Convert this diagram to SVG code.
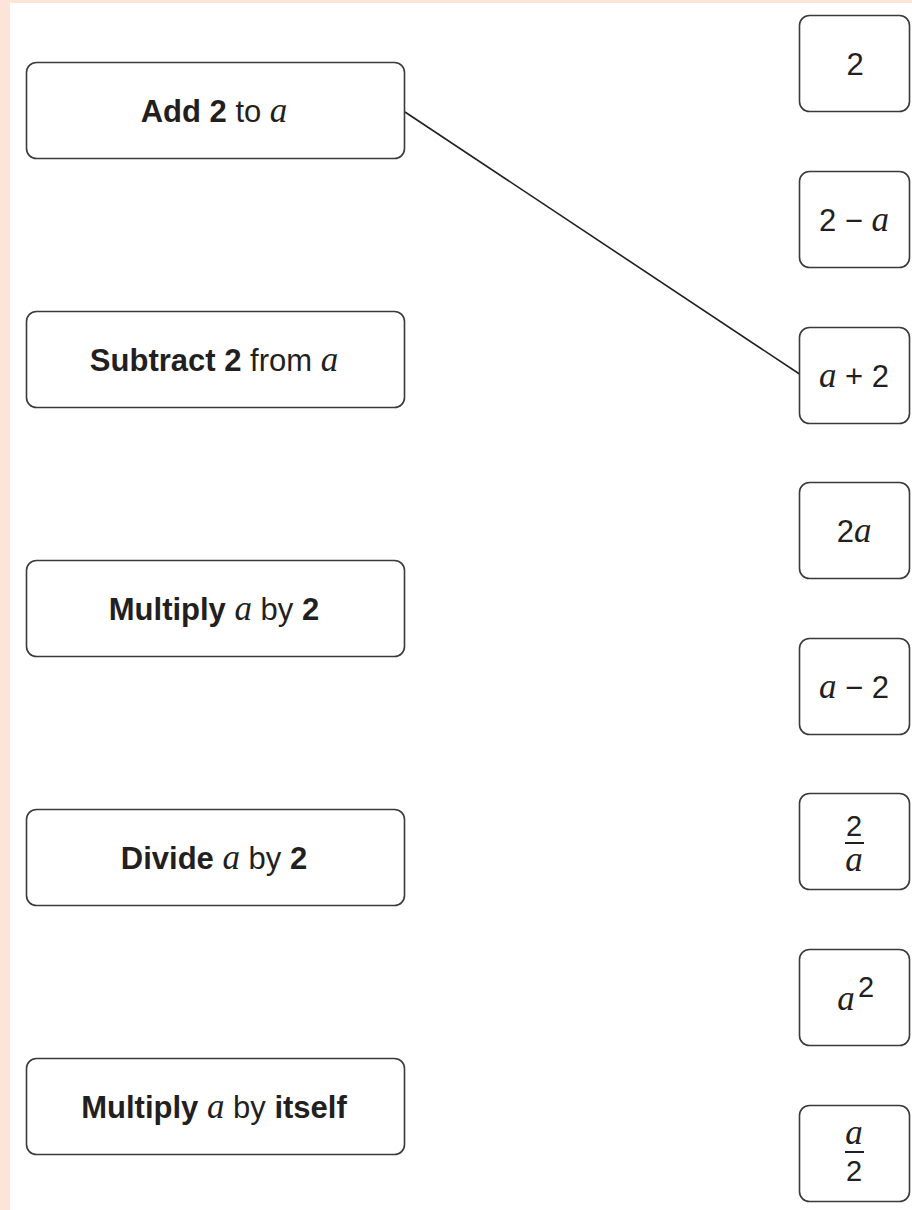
<svg xmlns="http://www.w3.org/2000/svg" width="912" height="1210" viewBox="0 0 912 1210">
<style>
.box{fill:#ffffff;stroke:#3a3a3a;stroke-width:1.6}
.t{font-family:"Liberation Sans",Arial,sans-serif;font-size:31px;fill:#231f20;text-anchor:middle}
.b{font-weight:bold}
.i{font-family:"Liberation Serif","Times New Roman",serif;font-style:italic;font-size:35px}
.fr{font-family:"Liberation Sans",Arial,sans-serif;font-size:29px;fill:#231f20;text-anchor:middle}
.fi{font-family:"Liberation Serif","Times New Roman",serif;font-style:italic;font-size:35px;fill:#231f20;text-anchor:middle}
.conn{stroke:#231f20;stroke-width:1.6;fill:none}
.bar{stroke:#231f20;stroke-width:2}
</style>
<rect x="0" y="0" width="912" height="1210" fill="#fce5d8"/>
<rect x="10" y="3" width="902" height="1207" fill="#ffffff"/>
<g id="connectors">
<line class="conn" x1="405" y1="112" x2="799.5" y2="374"/>
</g>
<g id="L1"><rect class="box" x="26.5" y="62.5" width="378" height="96" rx="10"/>
<text class="t" x="214" y="122"><tspan class="b">Add 2</tspan> to <tspan class="i">a</tspan></text></g>
<g id="L2"><rect class="box" x="26.5" y="311.5" width="378" height="96" rx="10"/>
<text class="t" x="214" y="371"><tspan class="b">Subtract 2</tspan> from <tspan class="i">a</tspan></text></g>
<g id="L3"><rect class="box" x="26.5" y="560.5" width="378" height="96" rx="10"/>
<text class="t" x="214" y="620"><tspan class="b">Multiply</tspan> <tspan class="i">a</tspan> by <tspan class="b">2</tspan></text></g>
<g id="L4"><rect class="box" x="26.5" y="809.5" width="378" height="96" rx="10"/>
<text class="t" x="214" y="869"><tspan class="b">Divide</tspan> <tspan class="i">a</tspan> by <tspan class="b">2</tspan></text></g>
<g id="L5"><rect class="box" x="26.5" y="1058.5" width="378" height="96" rx="10"/>
<text class="t" x="214" y="1118"><tspan class="b">Multiply</tspan> <tspan class="i">a</tspan> by <tspan class="b">itself</tspan></text></g>
<g id="R1"><rect class="box" x="799.5" y="15.5" width="110" height="96" rx="10"/>
<text class="t" x="855" y="75">2</text></g>
<g id="R2"><rect class="box" x="799.5" y="171.5" width="110" height="96" rx="10"/>
<text class="t" x="854" y="231">2 − <tspan class="i">a</tspan></text></g>
<g id="R3"><rect class="box" x="799.5" y="327.5" width="110" height="96" rx="10"/>
<text class="t" x="854" y="387"><tspan class="i">a</tspan> + 2</text></g>
<g id="R4"><rect class="box" x="799.5" y="482.5" width="110" height="96" rx="10"/>
<text class="t" x="854" y="542">2<tspan class="i">a</tspan></text></g>
<g id="R5"><rect class="box" x="799.5" y="638.5" width="110" height="96" rx="10"/>
<text class="t" x="854" y="698"><tspan class="i">a</tspan> − 2</text></g>
<g id="R6"><rect class="box" x="799.5" y="793.5" width="110" height="96" rx="10"/>
<text class="fr" x="854" y="836" font-size="27">2</text>
<line class="bar" x1="845" y1="843" x2="864" y2="843"/>
<text class="fi" x="854" y="871" font-size="32">a</text></g>
<g id="R7"><rect class="box" x="799.5" y="949.5" width="110" height="96" rx="10"/>
<text class="fi" x="846" y="1010">a</text>
<text class="fr" x="866" y="997" font-size="20">2</text></g>
<g id="R8"><rect class="box" x="799.5" y="1105.5" width="110" height="96" rx="10"/>
<text class="fi" x="854" y="1144">a</text>
<line class="bar" x1="845" y1="1152" x2="864" y2="1152"/>
<text class="fr" x="854" y="1181">2</text></g>
</svg>
